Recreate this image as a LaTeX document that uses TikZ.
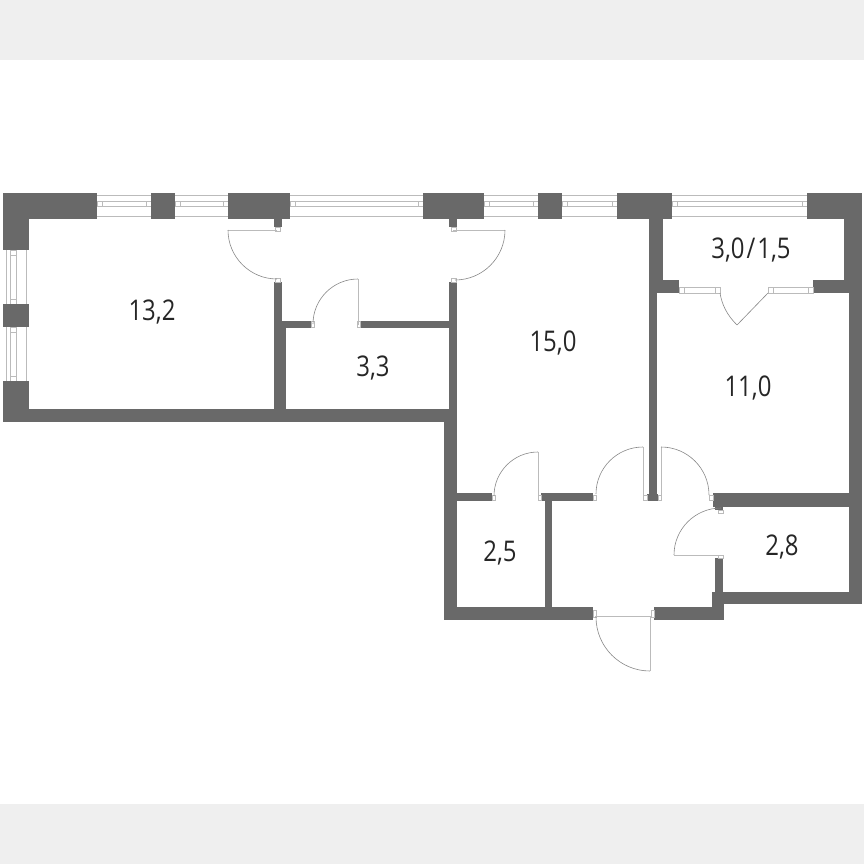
\documentclass[tikz,border=0pt]{standalone}
\usepackage{fontspec}
\setmainfont[FakeStretch=0.84]{Open Sans}
\definecolor{wallgrey}{HTML}{696969}
\definecolor{bandgrey}{HTML}{EFEFEF}
\definecolor{framegrey}{HTML}{BBBBBB}
\newcommand{\hwindow}[2]{
    \draw[glass] (#1,195) -- (#2,195);
    \draw[glass] (#1,216) -- (#2,216);
    \draw[glass] (#1,201) rectangle (#2,206);
    \draw[glass] (#1+5,201) -- (#1+5,206);
    \draw[glass] (#2-5,201) -- (#2-5,206);
}
\newcommand{\vwindow}[2]{
    \draw[glass] (6,#1) -- (6,#2);
    \draw[glass] (26,#1) -- (26,#2);
    \draw[glass] (10,#1) rectangle (16,#2);
    \draw[glass] (10,#1+5) -- (16,#1+5);
    \draw[glass] (10,#2-5) -- (16,#2-5);
}
\begin{document}
\begin{tikzpicture}[x=1pt,y=-1pt,
        wall/.style={fill=wallgrey},
        glass/.style={draw=framegrey,line width=.8pt},
        leaf/.style={draw=framegrey,line width=.8pt},
        swing/.style={draw=wallgrey!80,line width=.6pt},
        hinge/.style={draw=framegrey,line width=.5pt,fill=white},
        room/.style={font=\fontsize{28.5}{28.5}\selectfont,text=black!85}]
    \useasboundingbox (0,0) rectangle (864,864);
    \fill[bandgrey] (0,0) rectangle (864,60);
    \fill[bandgrey] (0,804) rectangle (864,864);

    \hwindow{97}{151}
    \hwindow{175}{228}
    \hwindow{290}{423}
    \hwindow{484}{538}
    \hwindow{562}{617}
    \hwindow{672}{807}
    \vwindow{250}{304}
    \vwindow{327}{381}

    \fill[wall] (3,193) rectangle (97,219);
    \fill[wall] (3,193) rectangle (29,250);
    \fill[wall] (151,193) rectangle (175,219);
    \fill[wall] (228,193) rectangle (290,219);
    \fill[wall] (423,193) rectangle (484,219);
    \fill[wall] (538,193) rectangle (562,219);
    \fill[wall] (617,193) rectangle (672,219);
    \fill[wall] (807,193) rectangle (862,219);
    \fill[wall] (3,304) rectangle (29,327);
    \fill[wall] (3,381) rectangle (29,422);
    \fill[wall] (3,409) rectangle (457,422);
    \fill[wall] (274,219) rectangle (282,227);
    \fill[wall] (449,219) rectangle (457,227);
    \fill[wall] (274,282) rectangle (282,328);
    \fill[wall] (274,328) rectangle (286,409);
    \fill[wall] (282,321) rectangle (311,328);
    \fill[wall] (360,321) rectangle (449,328);
    \fill[wall] (449,282) rectangle (457,409);
    \fill[wall] (444,409) rectangle (457,620);
    \fill[wall] (444,607) rectangle (593,620);
    \fill[wall] (654,607) rectangle (724,620);
    \fill[wall] (457,493) rectangle (492,501);
    \fill[wall] (541,493) rectangle (593,501);
    \fill[wall] (545,501) rectangle (552,607);
    \fill[wall] (649,219) rectangle (657,494);
    \fill[wall] (649,219) rectangle (663,280);
    \fill[wall] (649,280) rectangle (679,293);
    \fill[wall] (647,494) rectangle (658,501);
    \fill[wall] (844,219) rectangle (862,293);
    \fill[wall] (813,280) rectangle (862,293);
    \fill[wall] (849,293) rectangle (862,604);
    \fill[wall] (713,493) rectangle (849,507);
    \fill[wall] (715,507) rectangle (723,510);
    \fill[wall] (715,558) rectangle (723,592);
    \fill[wall] (712,592) rectangle (862,604);
    \fill[wall] (712,592) rectangle (724,620);

    \draw[glass] (679,287) rectangle (720,293);
    \draw[glass] (768,287) rectangle (813,293);
    \draw[glass] (684,287) -- (684,293);
    \draw[glass] (715,287) -- (715,293);
    \draw[glass] (773,287) -- (773,293);
    \draw[glass] (808,287) -- (808,293);

    \draw[hinge] (275,227) rectangle (280,231);
    \draw[hinge] (275,278) rectangle (280,282);
    \draw[hinge] (451,227) rectangle (456,231);
    \draw[hinge] (451,278) rectangle (456,282);
    \draw[hinge] (311,321) rectangle (314,327);
    \draw[hinge] (357,321) rectangle (360,327);
    \draw[hinge] (492,495) rectangle (495,500);
    \draw[hinge] (538,495) rectangle (541,500);
    \draw[hinge] (593,495) rectangle (596,500);
    \draw[hinge] (643,495) rectangle (647,500);
    \draw[hinge] (658,495) rectangle (661,500);
    \draw[hinge] (709,495) rectangle (713,500);
    \draw[hinge] (718,510) rectangle (723,513);
    \draw[hinge] (718,555) rectangle (723,558);
    \draw[hinge] (593,610) rectangle (596,617);
    \draw[hinge] (651,610) rectangle (654,617);

    \draw[leaf] (277,230) -- (228,230);
    \draw[swing] (228,230) arc[start angle=180,end angle=90,radius=49];
    \draw[leaf] (453,230) -- (505,230);
    \draw[swing] (505,230) arc[start angle=0,end angle=90,radius=50];
    \draw[leaf] (358,325) -- (358,279);
    \draw[swing] (358,279) arc[start angle=-90,end angle=-180,radius=45];
    \draw[leaf] (538,498) -- (538,452);
    \draw[swing] (538,452) arc[start angle=-90,end angle=-180,radius=44];
    \draw[leaf] (643,498) -- (643,447);
    \draw[swing] (643,447) arc[start angle=-90,end angle=-180,radius=47];
    \draw[leaf] (661,498) -- (661,447);
    \draw[swing] (661,447) arc[start angle=-90,end angle=0,radius=48];
    \draw[leaf] (720,555) -- (674,555);
    \draw[swing] (674,555) arc[start angle=180,end angle=270,radius=47];
    \draw[leaf] (595,616) -- (650,616) -- (650,671);
    \draw[swing] (650,671) arc[start angle=90,end angle=180,radius=54];
    \draw[swing] (737,325) -- (768,293);
    \draw[swing] (737,325) .. controls (727,315) and (722,305) .. (720,293);

    \draw (152,312) node[room] (living) {13,2};
    \draw (373,368) node[room] (bath) {3,3};
    \draw (553,343) node[room] (kitchen) {15,0};
    \draw (748,388) node[room] (bedroom) {11,0};
    \draw (751,250) node[room] (balcony) {3,0\kern2pt/\kern2pt1,5};
    \draw (500,553) node[room] (toilet) {2,5};
    \draw (782,547) node[room] (closet) {2,8};
\end{tikzpicture}
\end{document}
